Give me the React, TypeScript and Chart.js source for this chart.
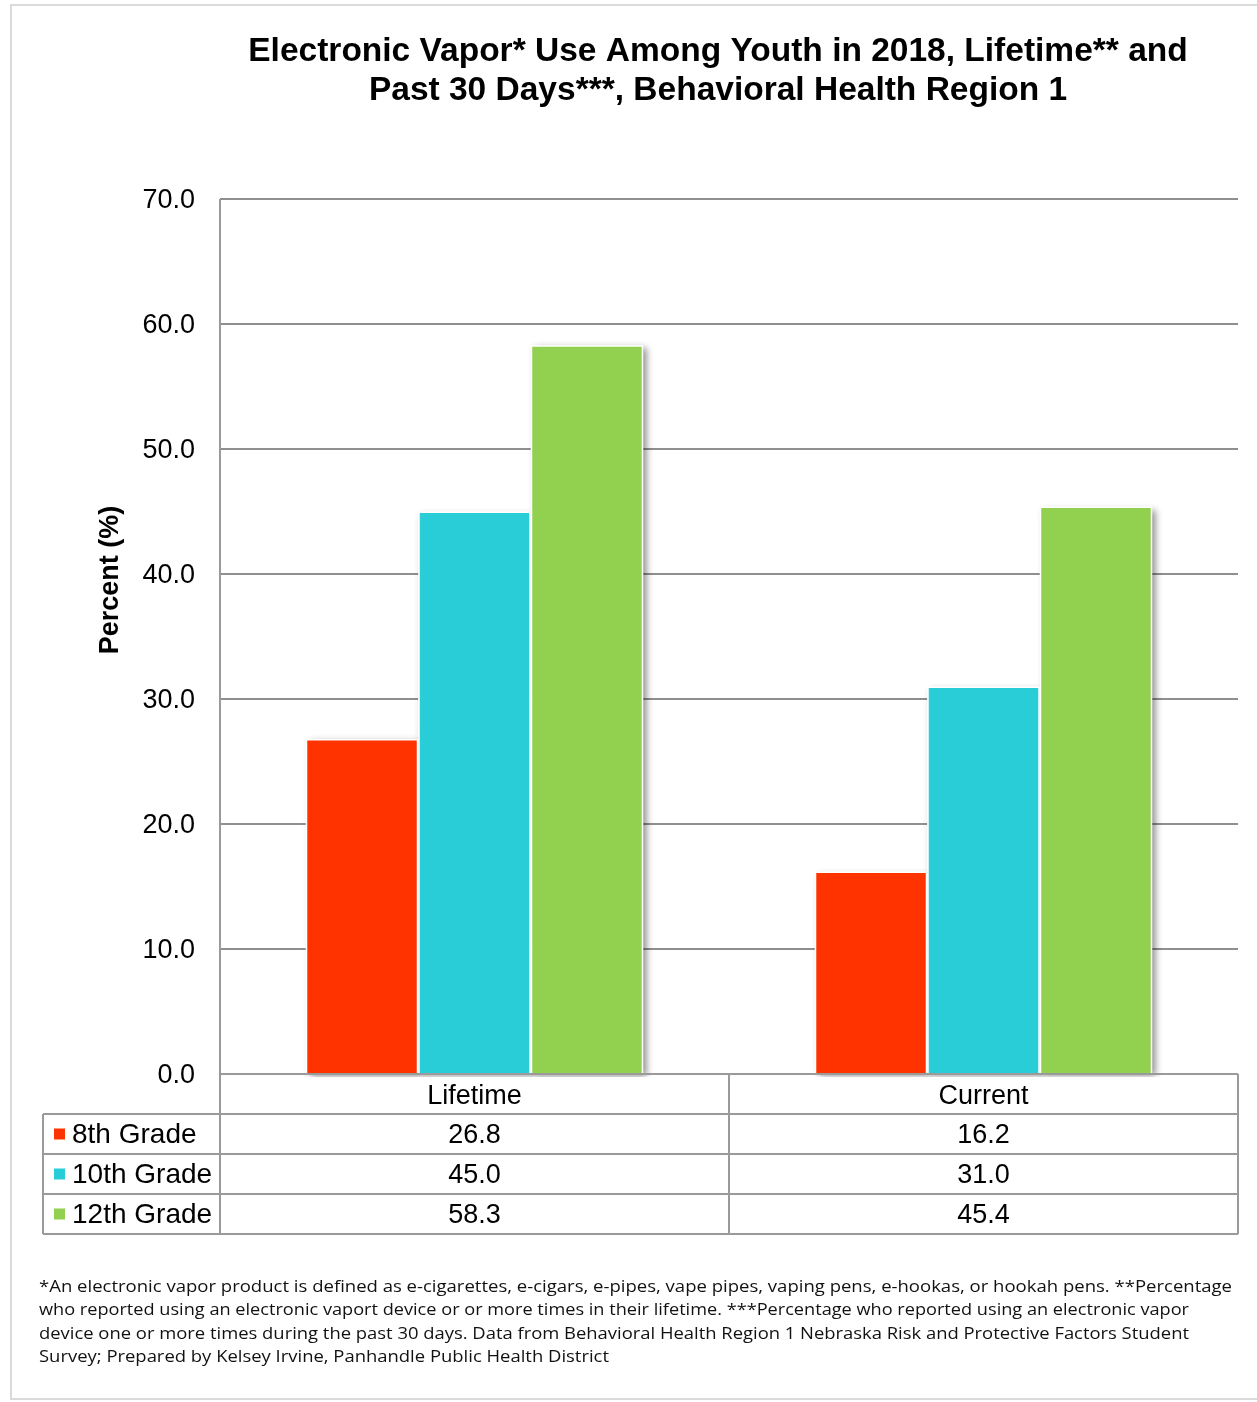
import { useEffect, useRef } from 'react';
import { Chart, registerables } from 'chart.js';

Chart.register(...registerables);

// ---- data ----
const categories = ['Lifetime', 'Current'];
const seriesNames = ['8th Grade', '10th Grade', '12th Grade'];
const grade8 = [26.8, 16.2];
const grade10 = [45.0, 31.0];
const grade12 = [58.3, 45.4];
const seriesColors = ['#FF3300', '#29CDD7', '#92D050'];
const yMin = 0;
const yMax = 70;
const yStep = 10;
const titleLines = [
  'Electronic Vapor* Use Among Youth in 2018, Lifetime** and',
  'Past 30 Days***, Behavioral Health Region 1',
];
const yAxisTitle = 'Percent (%)';
const footnoteLines = [
  '*An electronic vapor product is defined as e-cigarettes, e-cigars, e-pipes, vape pipes, vaping pens, e-hookas, or hookah pens. **Percentage',
  'who reported using an electronic vaport device or or more times in their lifetime. ***Percentage who reported using an electronic vapor',
  'device one or more times during the past 30 days. Data from Behavioral Health Region 1 Nebraska Risk and Protective Factors Student',
  'Survey; Prepared by Kelsey Irvine, Panhandle Public Health District',
];

// ---- style ----
const W = 1257;
const H = 1402;
const FONT = '"Liberation Sans", Arial, Helvetica, sans-serif';
const FOOT_FONT = '"Open Sans", "DejaVu Sans", sans-serif';
const footRight = [1232, 1189, 1189, 609];
const GRID = '#8f8f8f';
const TABLE = '#9a9a9a';

const seriesData = [grade8, grade10, grade12];

const decor = {
  id: 'decor',
  beforeDraw(chart: any) {
    const ctx = chart.ctx;
    ctx.save();
    ctx.fillStyle = '#ffffff';
    ctx.fillRect(0, 0, chart.width, chart.height);
    ctx.strokeStyle = '#dadada';
    ctx.lineWidth = 2;
    ctx.strokeRect(11, 5, chart.width + 20, 1394);
    ctx.restore();
  },
  beforeDatasetsDraw(chart: any) {
    const ctx = chart.ctx;
    const a = chart.chartArea;
    ctx.save();
    ctx.beginPath();
    ctx.rect(a.left, 0, a.right - a.left + 20, a.bottom + 3);
    ctx.clip();
    ctx.shadowColor = 'rgba(0,0,0,0.45)';
    ctx.shadowBlur = 7;
    ctx.shadowOffsetX = 4;
    ctx.shadowOffsetY = 3;
    ctx.fillStyle = '#ffffff';
    chart.data.datasets.forEach((_: any, i: number) => {
      const meta = chart.getDatasetMeta(i);
      meta.data.forEach((el: any) => {
        const p = el.getProps(['x', 'y', 'base', 'width'], true);
        ctx.fillRect(p.x - p.width / 2, p.y, p.width, p.base - p.y);
      });
    });
    ctx.restore();
  },
  afterDraw(chart: any) {
    const ctx = chart.ctx;
    const a = chart.chartArea;
    const xs = chart.scales.x;
    const rowH = 40;
    const tableTop = a.bottom;
    const tableBottom = tableTop + rowH * 4;
    const leftX = 43;
    const mid = (a.left + a.right) / 2;
    ctx.save();

    // table lines
    ctx.strokeStyle = TABLE;
    ctx.lineWidth = 2;
    ctx.beginPath();
    for (let r = 0; r <= 4; r++) {
      const y = tableTop + r * rowH;
      ctx.moveTo(r === 0 ? a.left : leftX, y);
      ctx.lineTo(a.right, y);
    }
    ctx.moveTo(a.left, a.top);
    ctx.lineTo(a.left, tableBottom);
    ctx.moveTo(mid, tableTop);
    ctx.lineTo(mid, tableBottom);
    ctx.moveTo(a.right, tableTop);
    ctx.lineTo(a.right, tableBottom);
    ctx.moveTo(leftX, tableTop + rowH);
    ctx.lineTo(leftX, tableBottom);
    ctx.stroke();

    // table rows
    ctx.textBaseline = 'middle';
    seriesData.forEach((vals, r) => {
      const cy = tableTop + rowH * (r + 1) + rowH / 2 + 1.5;
      ctx.fillStyle = seriesColors[r];
      ctx.fillRect(54, cy - 7, 11, 11);
      ctx.fillStyle = '#000000';
      ctx.textAlign = 'left';
      ctx.font = `28px ${FONT}`;
      ctx.fillText(seriesNames[r], 72, cy);
      ctx.textAlign = 'center';
      ctx.font = `27px ${FONT}`;
      vals.forEach((v, c) => ctx.fillText(v.toFixed(1), xs.getPixelForValue(c), cy));
    });

    // title
    ctx.fillStyle = '#000000';
    ctx.font = `bold 33.5px ${FONT}`;
    ctx.textAlign = 'center';
    ctx.textBaseline = 'alphabetic';
    ctx.fillText(titleLines[0], 718, 61);
    ctx.fillText(titleLines[1], 718, 100);

    // y-axis title
    ctx.save();
    ctx.translate(118, 580);
    ctx.rotate(-Math.PI / 2);
    ctx.font = `bold 27px ${FONT}`;
    ctx.textAlign = 'center';
    ctx.textBaseline = 'alphabetic';
    ctx.fillText(yAxisTitle, 0, 0);
    ctx.restore();

    // footnote
    ctx.font = `16px ${FOOT_FONT}`;
    ctx.textAlign = 'left';
    ctx.textBaseline = 'alphabetic';
    ctx.fillStyle = '#111111';
    footnoteLines.forEach((line, i) => {
      const w = ctx.measureText(line).width;
      const target = footRight[i] - 39;
      ctx.save();
      ctx.translate(39, 1292 + i * 23.4);
      ctx.scale(target / w, 1);
      ctx.fillText(line, 0, 0);
      ctx.restore();
    });

    ctx.restore();
  },
};

export default function App() {
  const ref = useRef<HTMLCanvasElement>(null);
  useEffect(() => {
    document.body.style.margin = '0';
    const chart = new Chart(ref.current!, {
      type: 'bar',
      data: {
        labels: categories,
        datasets: seriesNames.map((name, i) => ({
          label: name,
          data: seriesData[i],
          backgroundColor: seriesColors[i],
          borderColor: '#ffffff',
          borderWidth: 1.5,
          categoryPercentage: 0.663,
          barPercentage: 1,
        })),
      },
      options: {
        animation: false,
        responsive: false,
        devicePixelRatio: 1,
        layout: { padding: { left: 0, right: 19, top: 199, bottom: 288 } },
        plugins: {
          legend: { display: false },
          title: { display: false },
          tooltip: { enabled: false },
        },
        scales: {
          x: {
            grid: { display: false, drawTicks: false },
            border: { display: false },
            ticks: { color: '#000000', font: { family: FONT, size: 27 }, padding: 6 },
            afterFit: (scale: any) => {
              scale.height = 40;
            },
          },
          y: {
            min: yMin,
            max: yMax,
            grid: { color: GRID, lineWidth: 2, drawTicks: false },
            border: { display: false },
            ticks: {
              stepSize: yStep,
              color: '#000000',
              font: { family: FONT, size: 27 },
              padding: 25,
              labelOffset: 2,
              callback: (v: any) => Number(v).toFixed(1),
            },
            afterFit: (scale: any) => {
              scale.width = 220;
            },
          },
        },
      },
      plugins: [decor],
    });
    return () => chart.destroy();
  }, []);
  return (
    <canvas
      ref={ref}
      width={W}
      height={H}
      style={{ display: 'block', width: W, height: H }}
    />
  );
}
